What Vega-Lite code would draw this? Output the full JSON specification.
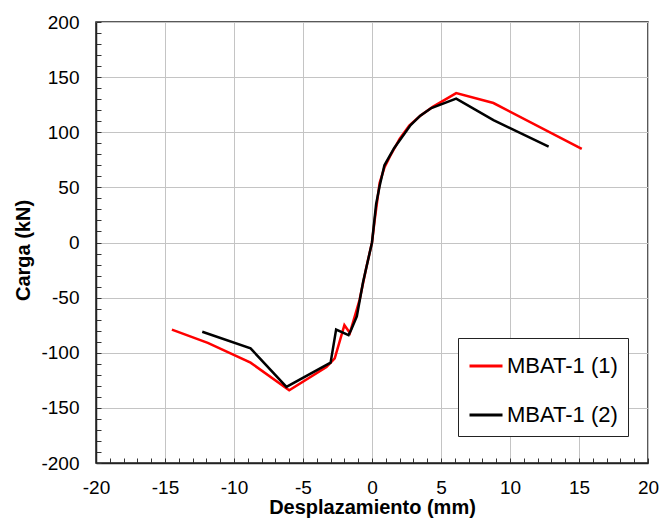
{
  "$schema": "https://vega.github.io/schema/vega-lite/v6.json",
  "width": 552,
  "height": 441,
  "autosize": {"type": "none"},
  "padding": {"left": 96, "top": 22, "right": 16, "bottom": 61},
  "background": "white",
  "config": {
    "view": {"stroke": "#222222", "strokeWidth": 1.5},
    "font": "Liberation Sans"
  },
  "data": {
    "values": [
      {"x": -14.5, "y": -79, "s": "MBAT-1 (1)"},
      {"x": -11.9, "y": -91, "s": "MBAT-1 (1)"},
      {"x": -8.8, "y": -109, "s": "MBAT-1 (1)"},
      {"x": -6.0, "y": -134, "s": "MBAT-1 (1)"},
      {"x": -3.3, "y": -113, "s": "MBAT-1 (1)"},
      {"x": -2.7, "y": -105, "s": "MBAT-1 (1)"},
      {"x": -2.0, "y": -75, "s": "MBAT-1 (1)"},
      {"x": -1.6, "y": -82, "s": "MBAT-1 (1)"},
      {"x": -0.9, "y": -52, "s": "MBAT-1 (1)"},
      {"x": -0.4, "y": -22, "s": "MBAT-1 (1)"},
      {"x": 0.0, "y": 0, "s": "MBAT-1 (1)"},
      {"x": 0.2, "y": 21, "s": "MBAT-1 (1)"},
      {"x": 0.55, "y": 54, "s": "MBAT-1 (1)"},
      {"x": 0.9, "y": 68, "s": "MBAT-1 (1)"},
      {"x": 1.3, "y": 78, "s": "MBAT-1 (1)"},
      {"x": 2.0, "y": 94, "s": "MBAT-1 (1)"},
      {"x": 2.7, "y": 106, "s": "MBAT-1 (1)"},
      {"x": 3.5, "y": 115, "s": "MBAT-1 (1)"},
      {"x": 4.4, "y": 123, "s": "MBAT-1 (1)"},
      {"x": 6.1, "y": 135.5, "s": "MBAT-1 (1)"},
      {"x": 8.8, "y": 126.5, "s": "MBAT-1 (1)"},
      {"x": 15.2, "y": 85, "s": "MBAT-1 (1)"},
      {"x": -12.3, "y": -81, "s": "MBAT-1 (2)"},
      {"x": -8.8, "y": -96, "s": "MBAT-1 (2)"},
      {"x": -6.2, "y": -131, "s": "MBAT-1 (2)"},
      {"x": -3.0, "y": -109, "s": "MBAT-1 (2)"},
      {"x": -2.6, "y": -79, "s": "MBAT-1 (2)"},
      {"x": -1.7, "y": -84, "s": "MBAT-1 (2)"},
      {"x": -1.5, "y": -79, "s": "MBAT-1 (2)"},
      {"x": -1.1, "y": -67, "s": "MBAT-1 (2)"},
      {"x": -0.65, "y": -36, "s": "MBAT-1 (2)"},
      {"x": 0.0, "y": 0, "s": "MBAT-1 (2)"},
      {"x": 0.3, "y": 35, "s": "MBAT-1 (2)"},
      {"x": 0.55, "y": 51, "s": "MBAT-1 (2)"},
      {"x": 0.9, "y": 70, "s": "MBAT-1 (2)"},
      {"x": 1.6, "y": 85.5, "s": "MBAT-1 (2)"},
      {"x": 2.8, "y": 106.5, "s": "MBAT-1 (2)"},
      {"x": 3.5, "y": 115, "s": "MBAT-1 (2)"},
      {"x": 4.3, "y": 122, "s": "MBAT-1 (2)"},
      {"x": 6.1, "y": 130.5, "s": "MBAT-1 (2)"},
      {"x": 8.8, "y": 111, "s": "MBAT-1 (2)"},
      {"x": 12.8, "y": 87, "s": "MBAT-1 (2)"}
    ]
  },
  "mark": {"type": "line", "strokeWidth": 2.5, "clip": true},
  "encoding": {
    "x": {
      "field": "x",
      "type": "quantitative",
      "scale": {"domain": [-20, 20], "nice": false, "zero": false},
      "axis": {
        "title": "Desplazamiento (mm)",
        "titleFontSize": 20,
        "titleFontWeight": "bold",
        "titleColor": "black",
        "titleY": 34,
        "values": [-20,-19,-18,-17,-16,-15,-14,-13,-12,-11,-10,-9,-8,-7,-6,-5,-4,-3,-2,-1,0,1,2,3,4,5,6,7,8,9,10,11,12,13,14,15,16,17,18,19,20],
        "labelExpr": "datum.value % 5 === 0 ? '' + datum.value : ''",
        "labelFontSize": 19,
        "labelColor": "black",
        "labelPadding": 20,
        "labelOverlap": false,
        "labelFlush": false,
        "grid": true,
        "gridColor": "#c4c4c4",
        "gridWidth": 1,
        "gridOpacity": {"condition": {"test": "datum.value % 5 === 0", "value": 1}, "value": 0},
        "ticks": true,
        "tickSize": -5,
        "tickColor": "#333333",
        "domainColor": "#222222",
        "domainWidth": 1.5
      }
    },
    "y": {
      "field": "y",
      "type": "quantitative",
      "scale": {"domain": [-200, 200], "nice": false, "zero": false},
      "axis": {
        "title": "Carga (kN)",
        "titleFontSize": 20,
        "titleFontWeight": "bold",
        "titleColor": "black",
        "titleX": -63,
        "titleY": 228,
        "values": [-200,-190,-180,-170,-160,-150,-140,-130,-120,-110,-100,-90,-80,-70,-60,-50,-40,-30,-20,-10,0,10,20,30,40,50,60,70,80,90,100,110,120,130,140,150,160,170,180,190,200],
        "labelExpr": "datum.value % 50 === 0 ? '' + datum.value : ''",
        "labelFontSize": 19,
        "labelColor": "black",
        "labelPadding": 22,
        "labelOverlap": false,
        "labelFlush": false,
        "grid": true,
        "gridColor": "#c4c4c4",
        "gridWidth": 1,
        "gridOpacity": {"condition": {"test": "datum.value % 50 === 0", "value": 1}, "value": 0},
        "ticks": true,
        "tickSize": -5,
        "tickColor": "#333333",
        "domainColor": "#222222",
        "domainWidth": 1.5
      }
    },
    "color": {
      "field": "s",
      "type": "nominal",
      "scale": {"domain": ["MBAT-1 (1)", "MBAT-1 (2)"], "range": ["#ff0000", "#000000"]},
      "legend": {
        "orient": "none",
        "legendX": 362,
        "legendY": 316,
        "title": null,
        "symbolType": "stroke",
        "symbolStrokeWidth": 3,
        "symbolSize": 1089,
        "labelFontSize": 22,
        "labelColor": "black",
        "labelOffset": 3,
        "rowPadding": 20,
        "padding": 10,
        "strokeColor": "#222222",
        "fillColor": "white"
      }
    }
  }
}
